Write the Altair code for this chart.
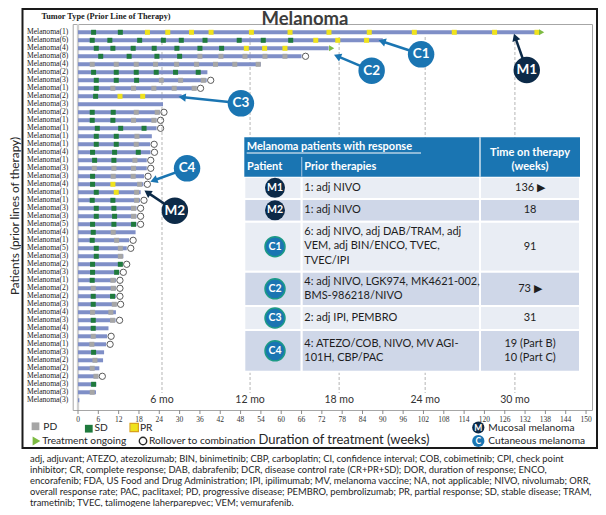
import math
import altair as alt
import pandas as pd

# ---------------- data ----------------
prior_lines = [1, 6, 4, 8, 4, 2, 3, 1, 2, 3,
               2, 1, 1, 1, 1, 4, 1, 3, 3, 4,
               1, 1, 3, 3, 5, 4, 1, 5, 3, 2,
               3, 1, 2, 2, 3, 4, 3, 4, 3, 1,
               3, 2, 2, 2, 3, 3, 3]
weeks_on_treatment = [136, 90, 74, 66, 54, 38.2, 38, 35, 30.6, 25.1,
                      24.2, 23.2, 23.2, 21.8, 21.3, 21.4, 20.3, 20.3, 19.5, 19.3,
                      18.5, 18.3, 17.3, 17.3, 17.3, 17.0, 15.1, 14.4, 13.4, 13.2,
                      12.2, 11.2, 11.2, 11.2, 11.4, 11.2, 11.1, 9.0, 8.6, 8.3,
                      7.7, 7.4, 6.3, 6.0, 5.4, 5.3, 0.4]
end_status = ["ongoing", "", "ongoing", "rollover", "", "", "rollover", "rollover", "", "",
              "rollover", "rollover", "rollover", "", "rollover", "rollover", "rollover", "rollover", "rollover", "rollover",
              "", "rollover", "rollover", "rollover", "rollover", "", "rollover", "rollover", "", "rollover",
              "rollover", "rollover", "rollover", "rollover", "rollover", "", "rollover", "", "rollover", "rollover",
              "", "", "", "rollover", "", "", ""]
assessments = [
    [("SD", 4.6), ("SD", 12.5), ("PR", 20.5), ("PR", 26.5), ("PR", 33.5), ("PR", 39.3), ("PR", 51.2),
     ("PR", 62.6), ("PR", 74.1), ("PR", 86.0), ("PR", 99.3), ("PR", 111.1), ("PR", 123.0), ("PR", 135.5)],
    [("SD", 4.2), ("SD", 9.4), ("SD", 18.2), ("SD", 25.2), ("SD", 30.5), ("SD", 37.5), ("SD", 47.6),
     ("SD", 54.7), ("SD", 62.8), ("PR", 70.2), ("PR", 76.7), ("PR", 85.2)],
    [("SD", 5.4), ("SD", 10.3), ("SD", 16.3), ("SD", 22.5), ("SD", 29.2), ("SD", 36.0), ("SD", 42.4),
     ("PR", 49.7), ("PR", 55.1), ("PR", 61.1)],
    [("SD", 6.7), ("SD", 15.1), ("SD", 23.3), ("SD", 30.0), ("PD", 36.0), ("PD", 42.2), ("PD", 49.3),
     ("PD", 55.2), ("PD", 61.1)],
    [("PD", 4.2), ("PD", 11.3), ("PD", 17.2), ("PD", 22.9), ("PD", 29.1), ("PD", 35.0), ("PD", 40.6),
     ("PD", 46.3), ("PD", 53.2)],
    [("SD", 4.6), ("SD", 11.3), ("SD", 17.2), ("SD", 23.1), ("SD", 28.8), ("SD", 35.5)],
    [("SD", 5.4), ("SD", 11.3), ("SD", 17.3), ("PD", 24.6), ("PD", 30.3), ("PD", 37.0)],
    [("SD", 5.4), ("PD", 10.3), ("PD", 16.4), ("PD", 22.4), ("PD", 28.4), ("PD", 34.3)],
    [("SD", 5.2), ("PR", 12.4), ("PR", 19.1)],
    [],
    [("SD", 4.2), ("SD", 10.4), ("PD", 17.2), ("PD", 23.4)],
    [("SD", 4.2), ("SD", 10.3), ("PD", 16.4), ("PD", 22.4)],
    [("SD", 5.7), ("SD", 12.6), ("SD", 19.5)],
    [("SD", 5.4), ("SD", 11.3), ("PD", 17.4)],
    [("SD", 5.4), ("SD", 11.3), ("PD", 17.2)],
    [("SD", 4.3), ("SD", 10.8), ("SD", 17.8)],
    [("SD", 4.9), ("SD", 10.6), ("PD", 16.8)],
    [("PD", 4.8), ("PD", 10.6), ("PD", 16.4)],
    [("SD", 4.3), ("PD", 10.4), ("PD", 16.3)],
    [("SD", 4.3), ("PR", 10.3), ("PD", 18.2)],
    [("SD", 5.4), ("PR", 11.3), ("PD", 17.3)],
    [("SD", 4.2), ("SD", 10.3), ("PD", 17.3)],
    [("SD", 5.4), ("SD", 10.6), ("PD", 16.4)],
    [("SD", 5.4), ("SD", 10.8), ("PD", 16.4)],
    [("SD", 4.3), ("SD", 10.6), ("SD", 16.4)],
    [("SD", 4.5), ("PD", 10.4)],
    [("SD", 4.2), ("PD", 11.4)],
    [("SD", 5.4), ("PD", 12.5)],
    [("SD", 5.4), ("PD", 12.5)],
    [("SD", 4.3), ("SD", 12.5)],
    [("SD", 4.3), ("SD", 11.4)],
    [("SD", 4.2), ("PD", 10.3)],
    [("PD", 4.5), ("PD", 10.4)],
    [("SD", 4.5), ("SD", 10.2)],
    [("SD", 4.5), ("PD", 10.7)],
    [("PD", 4.3), ("PD", 9.7)],
    [("SD", 4.5), ("PD", 10.2)],
    [("SD", 4.5)],
    [("PD", 4.5)],
    [("PD", 4.1)],
    [("SD", 4.6)],
    [("PD", 5.0)],
    [("PD", 4.2)],
    [("PD", 5.3)],
    [("SD", 4.6)],
    [("PD", 4.2)],
    [],
]
x_tick_values = list(range(0, 151, 6))
month_labels = ["6 mo", "12 mo", "18 mo", "24 mo", "30 mo"]
month_weeks = [24.8, 50.8, 77.1, 102.5, 129.0]

# annotated patients (badge + arrow), in weeks / patient-row units
ann_ids = ["C1", "M1", "C2", "C3", "C4", "M2"]
ann_badge_wk = [101.3, 132.5, 86.7, 48.1, 32.2, 28.6]
ann_badge_row = [3.75, 5.71, 5.8, 9.88, 18.0, 23.3]
ann_tip_wk = [90.1, 129.2, 76.9, 31.1, 22.7, 20.8]
ann_tip_row = [2.18, 1.75, 4.05, 9.13, 19.46, 21.1]

# response table
tbl_patients = ["M1", "M2", "C1", "C2", "C3", "C4"]
tbl_prior = [["1: adj NIVO"],
             ["1: adj NIVO"],
             ["6: adj NIVO, adj DAB/TRAM, adj", "VEM, adj BIN/ENCO, TVEC,", "TVEC/IPI"],
             ["4: adj NIVO, LGK974, MK4621-002,", "BMS-986218/NIVO"],
             ["2: adj IPI, PEMBRO"],
             ["4: ATEZO/COB, NIVO, MV AGI-", "101H, CBP/PAC"]]
tbl_time = [["136 \u25B6"], ["18"], ["91"], ["73 \u25B6"], ["31"], ["19 (Part B)", "10 (Part C)"]]

footnote_lines = [
    "adj, adjuvant; ATEZO, atezolizumab; BIN, binimetinib; CBP, carboplatin; CI, confidence interval; COB, cobimetinib; CPI, check point",
    "inhibitor; CR, complete response; DAB, dabrafenib; DCR, disease control rate (CR+PR+SD); DOR, duration of response; ENCO,",
    "encorafenib; FDA, US Food and Drug Administration; IPI, ipilimumab; MV, melanoma vaccine; NA, not applicable; NIVO, nivolumab; ORR,",
    "overall response rate; PAC, paclitaxel; PD, progressive disease; PEMBRO, pembrolizumab; PR, partial response; SD, stable disease; TRAM,",
    "trametinib; TVEC, talimogene laherparepvec; VEM; vemurafenib.",
]

# ---------------- styling / layout ----------------
BAR = "#7f8fc7"
C_PD, C_SD, C_PR = "#a6a6a6", "#1f7a3d", "#efe21c"
C_ONGO = "#7dbb42"
C_BLUE, C_NAVY = "#1a75b2", "#0c2a48"
SANS = "Lato"
SERIF = "Liberation Serif"

OX, OY = 72.7, 24.0            # page position of the plot-area origin
PW, PH = 519.3, 386.0          # plot area size
X_DOM = [-1.565, 151.76]
Y_DOM = [-0.0375, 48.2125]
PX_WK = PW / (X_DOM[1] - X_DOM[0])
PX_ROW = PH / (Y_DOM[1] - Y_DOM[0])

xs = alt.Scale(domain=X_DOM, nice=False, zero=False)
ys = alt.Scale(domain=Y_DOM, nice=False, zero=False, reverse=True)


def XP(f):
    return alt.X(f, type="quantitative", scale=None, axis=None)


def YP(f):
    return alt.Y(f, type="quantitative", scale=None, axis=None)


def XW(f):
    return alt.X(f, type="quantitative", scale=xs, axis=None)


def YR(f):
    return alt.Y(f, type="quantitative", scale=ys, axis=None)


def page(items):
    """layout items given in page pixels -> plot-relative pixels"""
    df = pd.DataFrame(items)
    for c in df.columns:
        if c.startswith("x"):
            df[c] = df[c] - OX
        elif c.startswith("y"):
            df[c] = df[c] - OY
    return df


def text_layer(df, **kw):
    return alt.Chart(df).mark_text(**kw).encode(x=XP("x"), y=YP("y"), text="text:N")


# ---------------- patient data frames ----------------
n = len(prior_lines)
bars = pd.DataFrame({
    "row": list(range(1, n + 1)),
    "start": [0] * n,
    "end": weeks_on_treatment,
    "label": [f"Melanoma({k})" for k in prior_lines],
    "status": end_status,
})
marks = pd.DataFrame([
    {"row": i + 1, "wk": w, "resp": t}
    for i, lst in enumerate(assessments) for (t, w) in lst
])

frame = alt.Chart(pd.DataFrame({"a": [0]})).mark_rect(
    fill=None, stroke="#1a1a1a", strokeWidth=2
).encode(x=alt.value(22.5 - OX), x2=alt.value(597 - OX), y=alt.value(9 - OY), y2=alt.value(448 - OY))

months = pd.DataFrame({"wk": month_weeks, "text": month_labels})
month_rules = alt.Chart(months).mark_rule(color="#b5b5b5", strokeDash=[3, 2], strokeWidth=1).encode(
    x=XW("wk"), y=alt.value(37 - OY), y2=alt.value(393 - OY))
month_text = alt.Chart(months).mark_text(font=SANS, fontSize=10.5, color="#333333").encode(
    x=XW("wk"), y=alt.value(400 - OY), text="text:N")

zero_line = alt.Chart(pd.DataFrame({"wk": [0]})).mark_rule(color="#d0d0d0", strokeWidth=2.3).encode(
    x=XW("wk"), y=alt.value(0), y2=alt.value(PH))

# x axis drawn from the tick values through the x scale
ticks = pd.DataFrame({"wk": x_tick_values, "text": [str(v) for v in x_tick_values]})
tick_marks = alt.Chart(ticks).mark_rule(color="#8c8c8c", strokeWidth=1).encode(
    x=XW("wk"), y=alt.value(PH), y2=alt.value(PH + 4))
tick_labels = alt.Chart(ticks).mark_text(font=SERIF, fontSize=7.5, color="#333333").encode(
    x=XW("wk"), y=alt.value(419.5 - OY), text="text:N")

bar_layer = alt.Chart(bars).mark_rule(strokeWidth=4, color=BAR, strokeCap="butt").encode(
    x=XW("start"), x2="end:Q", y=YR("row"))

marker_layer = alt.Chart(marks).mark_square(size=25, opacity=1).encode(
    x=XW("wk"), y=YR("row"),
    color=alt.Color("resp:N", scale=alt.Scale(domain=["PD", "SD", "PR"], range=[C_PD, C_SD, C_PR]), legend=None),
)

rollover = alt.Chart(bars[bars.status == "rollover"]).mark_point(
    shape="circle", filled=False, size=40, strokeWidth=1, color="#5a5a5a", opacity=1, xOffset=4
).encode(x=XW("end"), y=YR("row"))
ongoing = alt.Chart(bars[bars.status == "ongoing"]).mark_point(
    shape="triangle-right", filled=True, size=36, color=C_ONGO, opacity=1, xOffset=3
).encode(x=XW("end"), y=YR("row"))

row_labels = alt.Chart(bars).mark_text(font=SERIF, fontSize=7.6, align="right", color="#1a1a1a").encode(
    x=alt.value(68.3 - OX), y=YR("row"), text="label:N")

# ---------------- response table (layout in page pixels) ----------------
col_edges = [244.3, 301.7, 480, 580]
row_edges = [176.7, 199, 221.7, 271.7, 306, 330, 371.7]
hdr_top = 137.3
header = page([{"x0": col_edges[0], "x1": col_edges[3], "y0": hdr_top, "y1": row_edges[0]}])
header_rect = alt.Chart(header).mark_rect(color=C_BLUE).encode(
    x=XP("x0"), x2="x1", y=YP("y0"), y2="y1")
hdr_div = page([{"x0": col_edges[1], "y0": 157, "y1": row_edges[0], "c": "#8fb9da"},
                {"x0": col_edges[2], "y0": hdr_top, "y1": row_edges[0], "c": "#ffffff"}])
hdr_div_layer = alt.Chart(hdr_div).mark_rule(strokeWidth=1.2).encode(
    x=XP("x0"), y=YP("y0"), y2="y1", color=alt.Color("c:N", scale=None))
cells = []
for i in range(len(tbl_patients)):
    for j in range(3):
        cells.append({"x0": col_edges[j], "x1": col_edges[j + 1], "y0": row_edges[i], "y1": row_edges[i + 1],
                      "c": "#e9edf4" if i % 2 == 0 else "#cfd7e8"})
cell_layer = alt.Chart(page(cells)).mark_rect(stroke="white", strokeWidth=2).encode(
    x=XP("x0"), x2="x1", y=YP("y0"), y2="y1", color=alt.Color("c:N", scale=None))

hdr_bold = text_layer(page([
    {"x": 246.7, "y": 147, "text": "Melanoma patients with response"},
    {"x": 247, "y": 167.3, "text": "Patient"},
    {"x": 304.3, "y": 167.3, "text": "Prior therapies"},
]), font=SANS, fontSize=11, fontWeight="bold", color="white", align="left")
hdr_time = text_layer(page([
    {"x": 530, "y": 153.3, "text": "Time on therapy"},
    {"x": 530, "y": 167.3, "text": "(weeks)"},
]), font=SANS, fontSize=11, fontWeight="bold", color="white", align="center")
underline = alt.Chart(page([{"x0": 246.7, "x1": 421, "y0": 153}])).mark_rule(color="white", strokeWidth=1).encode(
    x=XP("x0"), x2="x1", y=YP("y0"))

prior_items, time_items, tbadge_items = [], [], []
for i, pid in enumerate(tbl_patients):
    top, bot = row_edges[i], row_edges[i + 1]
    mid = (top + bot) / 2
    k = len(tbl_prior[i])
    first = mid - 7.3 * (k - 1) if k < 3 else top + 9.8
    for j, line in enumerate(tbl_prior[i]):
        prior_items.append({"x": 304.3, "y": first + 14.8 * j, "text": line})
    kt = len(tbl_time[i])
    for j, line in enumerate(tbl_time[i]):
        time_items.append({"x": 530, "y": mid - 7.3 * (kt - 1) + 14.8 * j, "text": line})
    tbadge_items.append({"x": 275, "y": mid, "text": pid, "c": C_NAVY if pid[0] == "M" else C_BLUE})
prior_layer = text_layer(page(prior_items), font=SANS, fontSize=11, color="#1e1e1e", align="left")
time_layer = text_layer(page(time_items), font=SANS, fontSize=11, color="#1e1e1e", align="center")
tb = page(tbadge_items)
tbadge_circ = alt.Chart(tb).mark_circle(size=400, opacity=1).encode(
    x=XP("x"), y=YP("y"), color=alt.Color("c:N", scale=None))
tbadge_ring = alt.Chart(tb[tb.text.str[0] == "C"]).mark_point(
    shape="circle", size=400, filled=False, strokeWidth=1.5, color="#1c9a86", opacity=1).encode(
    x=XP("x"), y=YP("y"))
tbadge_txt = text_layer(tb, font=SANS, fontSize=10.5, fontWeight="bold", color="white")

# ---------------- annotation arrows / badges ----------------
ann = pd.DataFrame({"id": ann_ids, "bw": ann_badge_wk, "br": ann_badge_row,
                    "tw": ann_tip_wk, "tr": ann_tip_row})
ann["c"] = [C_NAVY if s[0] == "M" else C_BLUE for s in ann_ids]
ann["ang"] = [
    math.degrees(math.atan2((tw - bw) * PX_WK, -(tr - br) * PX_ROW)) % 360
    for bw, br, tw, tr in zip(ann.bw, ann.br, ann.tw, ann.tr)
]
ann_lines = alt.Chart(ann).mark_rule(strokeWidth=2.5).encode(
    x=XW("bw"), x2="tw", y=YR("br"), y2="tr", color=alt.Color("c:N", scale=None))
ann_heads = alt.Chart(ann).mark_point(shape="triangle", filled=True, size=70, opacity=1).encode(
    x=XW("tw"), y=YR("tr"), angle=alt.Angle("ang:Q", scale=None), color=alt.Color("c:N", scale=None))
ann_badges = alt.Chart(ann).mark_circle(size=700, opacity=1).encode(
    x=XW("bw"), y=YR("br"), color=alt.Color("c:N", scale=None))
ann_text = alt.Chart(ann).mark_text(font=SANS, fontSize=13.5, fontWeight="bold", color="white").encode(
    x=XW("bw"), y=YR("br"), text="id:N")

# ---------------- legend (page pixels) ----------------
leg_sq = page([{"x": 35.5, "y": 426.3, "c": C_PD}, {"x": 88.8, "y": 428.7, "c": C_SD},
               {"x": 134.2, "y": 427.5, "c": C_PR}])
leg_sq_layer = alt.Chart(leg_sq).mark_square(size=60, opacity=1).encode(
    x=XP("x"), y=YP("y"), color=alt.Color("c:N", scale=None))
leg_pr_ring = alt.Chart(leg_sq.iloc[[2]]).mark_point(shape="square", size=70, filled=False,
                                                     color="#d9a21b", strokeWidth=1.2, opacity=1).encode(
    x=XP("x"), y=YP("y"))
leg_tri = alt.Chart(page([{"x": 36.5, "y": 441}])).mark_point(
    shape="triangle-right", filled=True, size=80, color=C_ONGO, opacity=1).encode(x=XP("x"), y=YP("y"))
leg_circ = alt.Chart(page([{"x": 143, "y": 441}])).mark_point(
    shape="circle", filled=False, size=55, color="#2a2a2a", strokeWidth=1.4, opacity=1).encode(x=XP("x"), y=YP("y"))
leg_text = text_layer(page([
    {"x": 43.3, "y": 426.5, "text": "PD"},
    {"x": 94.5, "y": 428, "text": "SD"},
    {"x": 140, "y": 428, "text": "PR"},
    {"x": 42.3, "y": 441, "text": "Treatment ongoing"},
    {"x": 149, "y": 441, "text": "Rollover to combination"},
    {"x": 488.3, "y": 427.8, "text": "Mucosal melanoma"},
    {"x": 488.3, "y": 441, "text": "Cutaneous melanoma"},
]), font=SANS, fontSize=10.2, color="#262626", align="left")
leg_badge = page([{"x": 478.3, "y": 427.5, "text": "M", "c": C_NAVY},
                  {"x": 478.3, "y": 441, "text": "C", "c": C_BLUE}])
leg_badge_c = alt.Chart(leg_badge).mark_circle(size=150, opacity=1).encode(
    x=XP("x"), y=YP("y"), color=alt.Color("c:N", scale=None))
leg_badge_t = text_layer(leg_badge, font=SANS, fontSize=8.5, fontWeight="bold", color="white")

# ---------------- titles & footnote ----------------
title = text_layer(page([{"x": 305, "y": 24.5, "text": "Melanoma"}]), font=SANS, fontSize=18.5,
                   fontWeight="bold", color="#3d3d3d", baseline="alphabetic")
tumor_hdr = text_layer(page([{"x": 106, "y": 17, "text": "Tumor Type (Prior Line of Therapy)"}]),
                       font=SERIF, fontSize=8.3, fontWeight="bold", color="#1a1a1a")
xtitle = text_layer(page([{"x": 344, "y": 440, "text": "Duration of treatment (weeks)"}]),
                    font=SANS, fontSize=13, color="#262626")
ytitle = text_layer(page([{"x": 15.5, "y": 216, "text": "Patients (prior lines of therapy)"}]),
                    font=SANS, fontSize=11.8, color="#262626", angle=270)
foot = text_layer(page([{"x": 30, "y": 459.3 + 11 * i, "text": t} for i, t in enumerate(footnote_lines)]),
                  font=SANS, fontSize=9.4, color="#1e1e1e", align="left")

chart = alt.layer(
    frame, month_rules, zero_line, tick_marks, tick_labels,
    bar_layer, marker_layer, rollover, ongoing, row_labels, month_text,
    cell_layer, header_rect, hdr_div_layer, underline, hdr_bold, hdr_time, prior_layer, time_layer,
    tbadge_circ, tbadge_ring, tbadge_txt,
    ann_lines, ann_heads, ann_badges, ann_text,
    leg_sq_layer, leg_pr_ring, leg_tri, leg_circ, leg_text, leg_badge_c, leg_badge_t,
    title, tumor_hdr, xtitle, ytitle, foot,
).properties(
    width=PW, height=PH,
    autosize=alt.AutoSizeParams(type="none"),
    padding={"left": OX - 8, "top": OY - 8, "right": 598 - OX - PW, "bottom": 507 - OY - PH},
    background="white",
).configure_view(stroke="#a6a6a6", strokeWidth=1)

chart.save("out.html", embed_options={"renderer": "svg", "actions": False})
